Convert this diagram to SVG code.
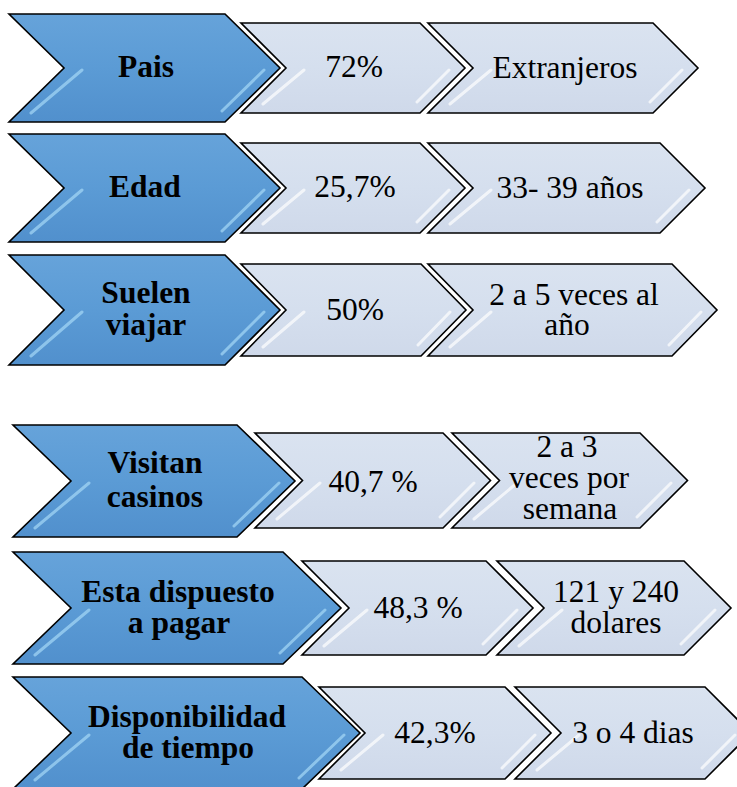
<svg xmlns="http://www.w3.org/2000/svg" width="737" height="787" viewBox="0 0 737 787">
<defs>
<linearGradient id="gBlue" x1="0" y1="0" x2="0" y2="1">
<stop offset="0" stop-color="#66a3da"/>
<stop offset="0.5" stop-color="#5b9bd5"/>
<stop offset="1" stop-color="#5190cd"/>
</linearGradient>
<linearGradient id="gLight" x1="0" y1="0" x2="0" y2="1">
<stop offset="0" stop-color="#dae3f0"/>
<stop offset="0.5" stop-color="#d5dfee"/>
<stop offset="1" stop-color="#cfd9ea"/>
</linearGradient>
</defs>
<style>
.blue{fill:url(#gBlue);stroke:#000;stroke-width:1.6;stroke-linejoin:miter}
.light{fill:url(#gLight);stroke:#000;stroke-width:1.6;stroke-linejoin:miter}
.hb{stroke:#a6d9f7;stroke-width:3;stroke-linecap:round;opacity:0.7}
.hl{stroke:#ffffff;stroke-width:3;stroke-linecap:round;opacity:0.7}
text{font-size:31.5px;fill:#000;text-anchor:middle}
.b{font-weight:bold}
</style>
<rect width="737" height="787" fill="#ffffff"/>
<g id="connectors"/>
<g font-family="'Liberation Serif', 'Times New Roman', 'DejaVu Serif', serif">

<g id="row1-pais">
<polygon class="blue" points="9,14 225,14 280,68 225,122 9,122 64,68"/>
<line class="hb" x1="82" y1="70" x2="31" y2="113"/><line class="hb" x1="264" y1="70" x2="222" y2="111"/>
<text class="b" x="146" y="77">Pais</text>
</g>
<g id="row1-pct">
<polygon class="light" points="241,23 420,23 465,68 420,113 241,113 286,68"/>
<line class="hl" x1="304" y1="70" x2="263" y2="104"/><line class="hl" x1="449" y1="70" x2="417" y2="102"/>
<text x="354" y="77">72%</text>
</g>
<g id="row1-val">
<polygon class="light" points="428,23 653,23 698,68 653,113 428,113 473,68"/>
<line class="hl" x1="491" y1="70" x2="450" y2="104"/><line class="hl" x1="682" y1="70" x2="650" y2="102"/>
<text x="565" y="78">Extranjeros</text>
</g>

<g id="row2-edad">
<polygon class="blue" points="9,134 225,134 280,188 225,242 9,242 64,188"/>
<line class="hb" x1="82" y1="190" x2="31" y2="233"/><line class="hb" x1="264" y1="190" x2="222" y2="231"/>
<text class="b" x="145" y="197">Edad</text>
</g>
<g id="row2-pct">
<polygon class="light" points="241,143 420,143 465,188 420,233 241,233 286,188"/>
<line class="hl" x1="304" y1="190" x2="263" y2="224"/><line class="hl" x1="449" y1="190" x2="417" y2="222"/>
<text x="355" y="197">25,7%</text>
</g>
<g id="row2-val">
<polygon class="light" points="428,143 660,143 705,188 660,233 428,233 473,188"/>
<line class="hl" x1="491" y1="190" x2="450" y2="224"/><line class="hl" x1="689" y1="190" x2="657" y2="222"/>
<text x="570" y="198">33- 39 años</text>
</g>

<g id="row3-viajar">
<polygon class="blue" points="9,255 225,255 280,310 225,365 9,365 64,310"/>
<line class="hb" x1="82" y1="312" x2="31" y2="356"/><line class="hb" x1="264" y1="312" x2="222" y2="354"/>
<text class="b" x="146" y="303">Suelen</text>
<text class="b" x="146" y="335">viajar</text>
</g>
<g id="row3-pct">
<polygon class="light" points="241,264 421,264 466,310 421,356 241,356 286,310"/>
<line class="hl" x1="304" y1="312" x2="263" y2="347"/><line class="hl" x1="450" y1="312" x2="418" y2="345"/>
<text x="355" y="320">50%</text>
</g>
<g id="row3-val">
<polygon class="light" points="428,264 672,264 717,310 672,356 428,356 473,310"/>
<line class="hl" x1="491" y1="312" x2="450" y2="347"/><line class="hl" x1="701" y1="312" x2="669" y2="345"/>
<text x="574" y="305">2 a 5 veces al</text>
<text x="567" y="335">año</text>
</g>

<g id="row4-casinos">
<polygon class="blue" points="13,425 237,425 295,481 237,537 13,537 71,481"/>
<line class="hb" x1="89" y1="483" x2="35" y2="528"/><line class="hb" x1="279" y1="483" x2="234" y2="526"/>
<text class="b" x="155" y="473">Visitan</text>
<text class="b" x="155" y="507">casinos</text>
</g>
<g id="row4-pct">
<polygon class="light" points="255,433 443,433 490.5,480.5 443,528 255,528 302.5,480.5"/>
<line class="hl" x1="320" y1="483" x2="277" y2="519"/><line class="hl" x1="474" y1="483" x2="440" y2="517"/>
<text x="373" y="492">40,7 %</text>
</g>
<g id="row4-val">
<polygon class="light" points="452,433 640,433 687.5,480.5 640,528 452,528 499.5,480.5"/>
<line class="hl" x1="517" y1="483" x2="474" y2="519"/><line class="hl" x1="671" y1="483" x2="637" y2="517"/>
<text x="567" y="457">2 a 3</text>
<text x="569" y="488">veces por</text>
<text x="570" y="519">semana</text>
</g>

<g id="row5-pagar">
<polygon class="blue" points="13,552 283,552 341,608 283,664 13,664 71,608"/>
<line class="hb" x1="89" y1="610" x2="35" y2="655"/><line class="hb" x1="325" y1="610" x2="280" y2="653"/>
<text class="b" x="178" y="602">Esta dispuesto</text>
<text class="b" x="179" y="633">a pagar</text>
</g>
<g id="row5-pct">
<polygon class="light" points="302,561 486,561 533,608 486,655 302,655 349,608"/>
<line class="hl" x1="367" y1="610" x2="324" y2="646"/><line class="hl" x1="517" y1="610" x2="483" y2="644"/>
<text x="418" y="618">48,3 %</text>
</g>
<g id="row5-val">
<polygon class="light" points="497,561 684,561 731,608 684,655 497,655 544,608"/>
<line class="hl" x1="562" y1="610" x2="519" y2="646"/><line class="hl" x1="715" y1="610" x2="681" y2="644"/>
<text x="616" y="602">121 y 240</text>
<text x="616" y="633">dolares</text>
</g>

<g id="row6-tiempo">
<polygon class="blue" points="13,677 302,677 360,733 302,789 13,789 71,733"/>
<line class="hb" x1="89" y1="735" x2="35" y2="780"/><line class="hb" x1="344" y1="735" x2="299" y2="778"/>
<text class="b" x="187" y="727">Disponibilidad</text>
<text class="b" x="188" y="758">de tiempo</text>
</g>
<g id="row6-pct">
<polygon class="light" points="319,687 505,687 551,733 505,779 319,779 365,733"/>
<line class="hl" x1="383" y1="735" x2="341" y2="770"/><line class="hl" x1="535" y1="735" x2="502" y2="768"/>
<text x="435" y="743">42,3%</text>
</g>
<g id="row6-val">
<polygon class="light" points="515,687 705,687 751,733 705,779 515,779 561,733"/>
<line class="hl" x1="579" y1="735" x2="537" y2="770"/><line class="hl" x1="735" y1="735" x2="702" y2="768"/>
<text x="633" y="743">3 o 4 dias</text>
</g>
</g>
</svg>
